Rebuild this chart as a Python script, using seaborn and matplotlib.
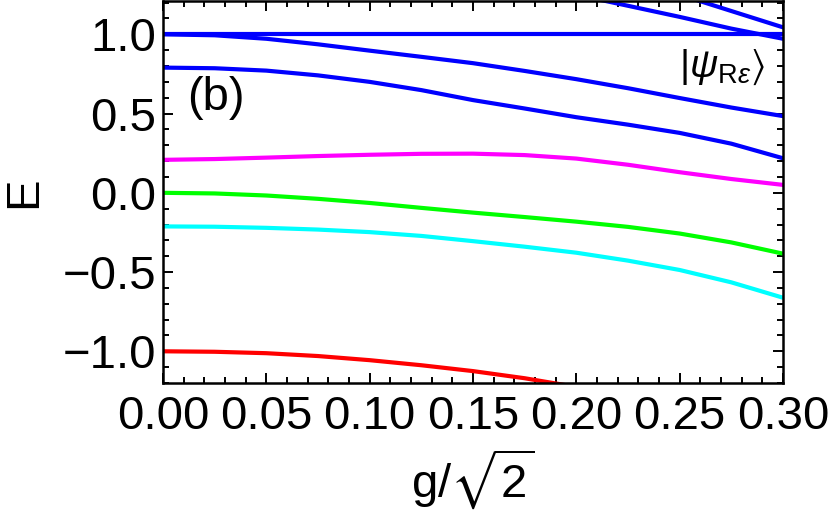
import numpy as np
import pandas as pd
import matplotlib
matplotlib.use("Agg")
import matplotlib.pyplot as plt
import seaborn as sns
from matplotlib.ticker import MultipleLocator, FuncFormatter

# ---------------- data ----------------
x_grid = [0.0, 0.025, 0.05, 0.075, 0.1, 0.125, 0.15, 0.175, 0.2, 0.225, 0.25, 0.275, 0.3]

blue_flat = [1.0] * 13
blue_1 = [1.0, 0.994, 0.972, 0.937, 0.897, 0.858, 0.818, 0.769, 0.717, 0.66, 0.598, 0.538, 0.484]
blue_2 = [0.79, 0.786, 0.771, 0.741, 0.7, 0.648, 0.585, 0.532, 0.477, 0.43, 0.378, 0.31, 0.218]
magenta = [0.208, 0.213, 0.222, 0.232, 0.24, 0.246, 0.247, 0.238, 0.216, 0.177, 0.13, 0.087, 0.05]
green = [0.0, -0.004, -0.017, -0.038, -0.064, -0.095, -0.125, -0.153, -0.182, -0.215, -0.257, -0.313, -0.384]
cyan = [-0.212, -0.214, -0.221, -0.232, -0.248, -0.272, -0.305, -0.34, -0.378, -0.428, -0.487, -0.565, -0.662]
red = [-1.0, -1.003, -1.012, -1.03, -1.056, -1.088, -1.125, -1.17, -1.225, -1.29, -1.36, -1.44, -1.53]

x_upper_a = [0.2, 0.225, 0.25, 0.275, 0.3]
blue_upper_a = [1.25, 1.18, 1.11, 1.036, 0.972]
x_upper_b = [0.25, 0.275, 0.3]
blue_upper_b = [1.25, 1.147, 1.044]

x_ticks = [0.0, 0.05, 0.10, 0.15, 0.20, 0.25, 0.30]
y_ticks = [-1.0, -0.5, 0.0, 0.5, 1.0]

# ---------------- style ----------------
sns.set_theme(style="ticks")
plt.rcParams['font.family'] = ['Liberation Sans', 'DejaVu Sans']
plt.rcParams['mathtext.fontset'] = 'custom'
plt.rcParams['mathtext.rm'] = 'Liberation Sans'
plt.rcParams['mathtext.it'] = 'Liberation Sans:italic'
plt.rcParams['mathtext.bf'] = 'Liberation Sans:bold'
plt.rcParams['mathtext.fallback'] = 'stixsans'
for k in ['text.color', 'axes.labelcolor', 'xtick.color', 'ytick.color', 'axes.edgecolor']:
    plt.rcParams[k] = 'black'

fig = plt.figure(figsize=(8.3, 5.22), dpi=100)
ax = fig.add_axes([0.1964, 0.2663, 0.7470, 0.7317])

lw = 3.0
series = [
    (x_grid, blue_flat, "#0000ff"),
    (x_grid, blue_1, "#0000ff"),
    (x_grid, blue_2, "#0000ff"),
    (x_upper_a, blue_upper_a, "#0000ff"),
    (x_upper_b, blue_upper_b, "#0000ff"),
    (x_grid, magenta, "#ff00ff"),
    (x_grid, green, "#00ff00"),
    (x_grid, cyan, "#00ffff"),
    (x_grid, red, "#ff0000"),
]
for xs, ys, c in series:
    df = pd.DataFrame({"x": xs, "E": ys})
    sns.lineplot(data=df, x="x", y="E", color=c, linewidth=lw, ax=ax,
                 estimator=None, sort=True)

ax.set_xlim(0.0, 0.3)
ax.set_ylim(-1.2, 1.21)

ax.set_xticks(x_ticks)
ax.set_yticks(y_ticks)
ax.xaxis.set_major_formatter(FuncFormatter(lambda v, p: f"{v:.2f}".replace('-', '\u2212')))
ax.yaxis.set_major_formatter(FuncFormatter(lambda v, p: f"{v:.1f}".replace('-', '\u2212')))
ax.xaxis.set_minor_locator(MultipleLocator(0.01))
ax.yaxis.set_minor_locator(MultipleLocator(0.1))

ax.tick_params(which='both', direction='in', top=True, right=True,
               color='black', width=1.4)
ax.tick_params(which='major', length=7, labelsize=34, pad=5)
ax.tick_params(which='minor', length=4)
ax.tick_params(axis='x', which='major', pad=9)

for sp in ax.spines.values():
    sp.set_color('black')
    sp.set_linewidth(1.8)

ax.set_xlabel(r'g/$\sqrt{2}$', fontsize=34, labelpad=6)
ax.set_ylabel('E', fontsize=34, labelpad=12)

ax.text(0.0255, 0.6, '(b)', fontsize=34, ha='center', va='center')
ax.text(0.2705, 0.79, r'$|\psi_{\mathrm{R}\epsilon}\rangle$', fontsize=28,
        ha='center', va='center')

fig.savefig("out.png", dpi=100)
